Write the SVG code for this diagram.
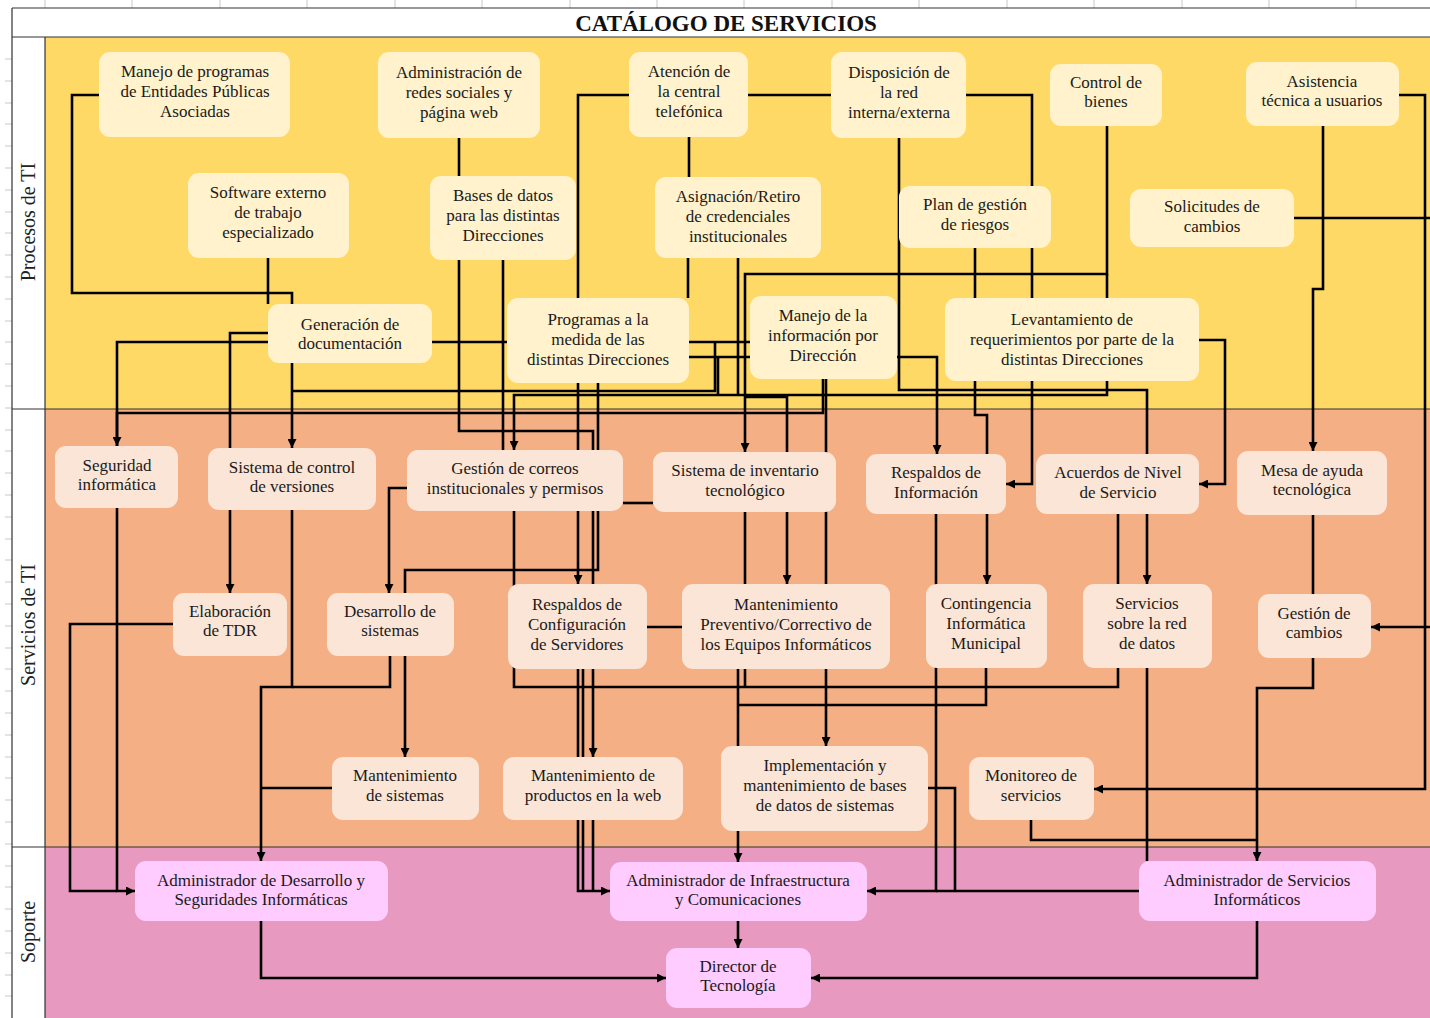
<svg xmlns="http://www.w3.org/2000/svg" width="1430" height="1018" viewBox="0 0 1430 1018">
  <defs>
    <marker id="arr" viewBox="0 0 10 10" refX="10" refY="5" markerWidth="11" markerHeight="9" markerUnits="userSpaceOnUse" orient="auto">
      <path d="M0,0 L10,5 L0,10 z" fill="#000"/>
    </marker>
    <style>
      .lane1 { fill: #FFD966; }
      .lane2 { fill: #F4AF84; }
      .lane3 { fill: #E899C0; }
      .frame { fill: none; stroke: #333; stroke-width: 1.2; }
      .tick { stroke: #c8c8c8; stroke-width: 1; }
      .np { fill: #FFF2CC; }
      .ns { fill: #FBE5D6; }
      .nk { fill: #FFCCFF; }
      .node text { font-family: "Liberation Serif", "Times New Roman", serif; font-size: 17px; fill: #1a1a1a; text-anchor: middle; }
      .lbl { font-family: "Liberation Serif", "Times New Roman", serif; font-size: 20px; fill: #222; text-anchor: middle; }
      .title { font-family: "Liberation Serif", "Times New Roman", serif; font-size: 23px; font-weight: bold; fill: #111; text-anchor: middle; }
      #connectors path { fill: none; stroke: #000; stroke-width: 2.6; }
      .a { marker-end: url(#arr); }
    </style>
  </defs>

  <!-- canvas -->
  <rect x="0" y="0" width="1430" height="1018" fill="#fff"/>

  <!-- ruler ticks -->
  <g id="ruler">
    <path class="tick" d="M45,0V8 M132,0V8 M220,0V8 M307,0V8 M395,0V8 M482,0V8 M570,0V8 M657,0V8 M744,0V8 M832,0V8 M919,0V8 M1007,0V8 M1094,0V8 M1182,0V8 M1269,0V8 M1356,0V8"/>
    <path class="tick" d="M5,59H12 M5,81H12 M5,103H12 M5,124H12 M5,146H12 M5,168H12 M5,190H12 M5,212H12 M5,233H12 M5,255H12 M5,277H12 M5,299H12 M5,321H12 M5,342H12 M5,364H12 M5,386H12 M5,408H12 M5,430H12 M5,451H12 M5,473H12 M5,495H12 M5,517H12 M5,539H12 M5,560H12 M5,582H12 M5,604H12 M5,626H12 M5,648H12 M5,669H12 M5,691H12 M5,713H12 M5,735H12 M5,757H12 M5,778H12 M5,800H12 M5,822H12 M5,844H12 M5,866H12 M5,887H12 M5,909H12 M5,931H12 M5,953H12 M5,975H12 M5,996H12"/>
  </g>

  <!-- lanes -->
  <g id="lanes">
    <rect x="45" y="37" width="1385" height="372" class="lane1"/>
    <rect x="45" y="409" width="1385" height="438" class="lane2"/>
    <rect x="45" y="847" width="1385" height="171" class="lane3"/>
    <rect x="12" y="37" width="33" height="981" fill="#fff"/>
    <path class="frame" d="M12,8H1430 M12,37H1430 M12,409H1430 M12,847H1430 M12,8V1018 M45,37V1018"/>
    <text class="title" x="726" y="31">CATÁLOGO DE SERVICIOS</text>
    <text class="lbl" transform="translate(35,222) rotate(-90)">Procesos de TI</text>
    <text class="lbl" transform="translate(35,625) rotate(-90)">Servicios de TI</text>
    <text class="lbl" transform="translate(35,932) rotate(-90)">Soporte</text>
  </g>

  <!-- connectors -->
  <g id="connectors">
    <path class="a" d="M99,95H72V293H292V448"/>
    <path d="M268,258V304"/>
    <path class="a" d="M268,333H230V593"/>
    <path class="a" d="M268,342H117V446"/>
    <path d="M432,342H507"/>
    <path d="M459,138V176"/>
    <path class="a" d="M459,260V431H593V757"/>
    <path d="M503,260V450"/>
    <path d="M629,95H578V298"/>
    <path d="M748,95H831"/>
    <path d="M689,137V177"/>
    <path d="M688,258V298"/>
    <path class="a" d="M966,95H1032V484H1006"/>
    <path class="a" d="M899,138V390H1147V584"/>
    <path class="a" d="M1107,126V274H745V452"/>
    <path class="a" d="M1107,274V395H514V450"/>
    <path class="a" d="M1323,126V289H1313V451"/>
    <path class="a" d="M1399,95H1425V789H1094"/>
    <path class="a" d="M1294,218H1436V627H1371"/>
    <path class="a" d="M975,248V415H987V584"/>
    <path class="a" d="M1199,340H1225V484H1199"/>
    <path d="M738,258V395"/>
    <path class="a" d="M897,357H937V454"/>
    <path class="a" d="M826,379V746"/>
    <path d="M823,379V413H117V446"/>
    <path d="M689,342H750"/>
    <path d="M689,357H750 M715,342V391H292 M718,357V395"/>
    <path class="a" d="M578,383V584"/>
    <path class="a" d="M598,383V570H405V757"/>
    <path class="a" d="M745,397H787V584"/>
    <path class="a" d="M407,488H389V593"/>
    <path d="M623,503H653"/>
    <path d="M1118,514V687H514V511"/>
    <path class="a" d="M292,510V687H261V861"/>
    <path d="M390,656V687H292"/>
    <path d="M332,788H262"/>
    <path class="a" d="M117,508V891H135"/>
    <path d="M173,624H70V891H117"/>
    <path d="M647,627H682"/>
    <path class="a" d="M578,669V891H610"/>
    <path d="M583,669V891"/>
    <path d="M593,820V891"/>
    <path class="a" d="M738,669V862"/>
    <path d="M745,512V584 M745,669V687"/>
    <path d="M986,668V705H738"/>
    <path class="a" d="M936,514V891H867"/>
    <path d="M928,788H955V891"/>
    <path d="M1139,891H936"/>
    <path d="M1147,668V861"/>
    <path d="M1313,515V594"/>
    <path class="a" d="M1313,658V688H1257V861"/>
    <path d="M1031,820V840H1257"/>
    <path class="a" d="M1257,921V978H811"/>
    <path class="a" d="M738,921V948"/>
    <path class="a" d="M261,921V978H666"/>
  </g>

  <!-- Procesos de TI -->
  <g id="n-manejo-programas" class="node"><rect class="np" x="99" y="52" width="191" height="85" rx="11"/><text x="195" y="77">Manejo de programas</text><text x="195" y="97">de Entidades Públicas</text><text x="195" y="117">Asociadas</text></g>
  <g id="n-redes-sociales" class="node"><rect class="np" x="378" y="52" width="162" height="86" rx="11"/><text x="459" y="78">Administración de</text><text x="459" y="98">redes sociales y</text><text x="459" y="118">página web</text></g>
  <g id="n-central-telefonica" class="node"><rect class="np" x="629" y="52" width="119" height="85" rx="11"/><text x="689" y="77">Atención de</text><text x="689" y="97">la central</text><text x="689" y="117">telefónica</text></g>
  <g id="n-disposicion-red" class="node"><rect class="np" x="831" y="52" width="135" height="86" rx="11"/><text x="899" y="78">Disposición de</text><text x="899" y="98">la red</text><text x="899" y="118">interna/externa</text></g>
  <g id="n-control-bienes" class="node"><rect class="np" x="1050" y="64" width="112" height="62" rx="11"/><text x="1106" y="88">Control de</text><text x="1106" y="107">bienes</text></g>
  <g id="n-asistencia" class="node"><rect class="np" x="1246" y="62" width="153" height="64" rx="11"/><text x="1322" y="87">Asistencia</text><text x="1322" y="106">técnica a usuarios</text></g>
  <g id="n-software-externo" class="node"><rect class="np" x="188" y="173" width="161" height="85" rx="11"/><text x="268" y="198">Software externo</text><text x="268" y="218">de trabajo</text><text x="268" y="238">especializado</text></g>
  <g id="n-bases-datos" class="node"><rect class="np" x="430" y="176" width="146" height="84" rx="11"/><text x="503" y="201">Bases de datos</text><text x="503" y="221">para las distintas</text><text x="503" y="241">Direcciones</text></g>
  <g id="n-credenciales" class="node"><rect class="np" x="655" y="177" width="166" height="81" rx="11"/><text x="738" y="202">Asignación/Retiro</text><text x="738" y="222">de credenciales</text><text x="738" y="242">institucionales</text></g>
  <g id="n-plan-riesgos" class="node"><rect class="np" x="899" y="186" width="152" height="62" rx="11"/><text x="975" y="210">Plan de gestión</text><text x="975" y="230">de riesgos</text></g>
  <g id="n-solicitudes-cambios" class="node"><rect class="np" x="1130" y="189" width="164" height="58" rx="11"/><text x="1212" y="212">Solicitudes de</text><text x="1212" y="232">cambios</text></g>
  <g id="n-generacion-doc" class="node"><rect class="np" x="268" y="304" width="164" height="59" rx="11"/><text x="350" y="330">Generación de</text><text x="350" y="349">documentación</text></g>
  <g id="n-programas-medida" class="node"><rect class="np" x="507" y="298" width="182" height="85" rx="11"/><text x="598" y="325">Programas a la</text><text x="598" y="345">medida de las</text><text x="598" y="365">distintas Direcciones</text></g>
  <g id="n-manejo-info" class="node"><rect class="np" x="750" y="296" width="147" height="83" rx="11"/><text x="823" y="321">Manejo de la</text><text x="823" y="341">información por</text><text x="823" y="361">Dirección</text></g>
  <g id="n-levantamiento" class="node"><rect class="np" x="945" y="298" width="254" height="83" rx="11"/><text x="1072" y="325">Levantamiento de</text><text x="1072" y="345">requerimientos por parte de la</text><text x="1072" y="365">distintas Direcciones</text></g>

  <!-- Servicios de TI -->
  <g id="n-seguridad" class="node"><rect class="ns" x="55" y="446" width="123" height="62" rx="11"/><text x="117" y="471">Seguridad</text><text x="117" y="490">informática</text></g>
  <g id="n-control-versiones" class="node"><rect class="ns" x="208" y="448" width="168" height="62" rx="11"/><text x="292" y="473">Sistema de control</text><text x="292" y="492">de versiones</text></g>
  <g id="n-correos" class="node"><rect class="ns" x="407" y="450" width="216" height="61" rx="11"/><text x="515" y="474">Gestión de correos</text><text x="515" y="494">institucionales y permisos</text></g>
  <g id="n-inventario" class="node"><rect class="ns" x="653" y="452" width="183" height="60" rx="11"/><text x="745" y="476">Sistema de inventario</text><text x="745" y="496">tecnológico</text></g>
  <g id="n-respaldos-info" class="node"><rect class="ns" x="866" y="454" width="140" height="60" rx="11"/><text x="936" y="478">Respaldos de</text><text x="936" y="498">Información</text></g>
  <g id="n-acuerdos" class="node"><rect class="ns" x="1036" y="454" width="163" height="60" rx="11"/><text x="1118" y="478">Acuerdos de Nivel</text><text x="1118" y="498">de Servicio</text></g>
  <g id="n-mesa-ayuda" class="node"><rect class="ns" x="1237" y="451" width="150" height="64" rx="11"/><text x="1312" y="476">Mesa de ayuda</text><text x="1312" y="495">tecnológica</text></g>
  <g id="n-tdr" class="node"><rect class="ns" x="173" y="593" width="114" height="63" rx="11"/><text x="230" y="617">Elaboración</text><text x="230" y="636">de TDR</text></g>
  <g id="n-desarrollo" class="node"><rect class="ns" x="327" y="593" width="127" height="63" rx="11"/><text x="390" y="617">Desarrollo de</text><text x="390" y="636">sistemas</text></g>
  <g id="n-respaldos-config" class="node"><rect class="ns" x="508" y="584" width="139" height="85" rx="11"/><text x="577" y="610">Respaldos de</text><text x="577" y="630">Configuración</text><text x="577" y="650">de Servidores</text></g>
  <g id="n-mant-preventivo" class="node"><rect class="ns" x="682" y="584" width="208" height="85" rx="11"/><text x="786" y="610">Mantenimiento</text><text x="786" y="630">Preventivo/Correctivo de</text><text x="786" y="650">los Equipos Informáticos</text></g>
  <g id="n-contingencia" class="node"><rect class="ns" x="926" y="584" width="121" height="84" rx="11"/><text x="986" y="609">Contingencia</text><text x="986" y="629">Informática</text><text x="986" y="649">Municipal</text></g>
  <g id="n-servicios-red" class="node"><rect class="ns" x="1083" y="584" width="129" height="84" rx="11"/><text x="1147" y="609">Servicios</text><text x="1147" y="629">sobre la red</text><text x="1147" y="649">de datos</text></g>
  <g id="n-gestion-cambios" class="node"><rect class="ns" x="1258" y="594" width="113" height="64" rx="11"/><text x="1314" y="619">Gestión de</text><text x="1314" y="638">cambios</text></g>
  <g id="n-mant-sistemas" class="node"><rect class="ns" x="332" y="757" width="147" height="63" rx="11"/><text x="405" y="781">Mantenimiento</text><text x="405" y="801">de sistemas</text></g>
  <g id="n-mant-web" class="node"><rect class="ns" x="503" y="757" width="180" height="63" rx="11"/><text x="593" y="781">Mantenimiento de</text><text x="593" y="801">productos en la web</text></g>
  <g id="n-implementacion-bd" class="node"><rect class="ns" x="721" y="746" width="207" height="85" rx="11"/><text x="825" y="771">Implementación y</text><text x="825" y="791">mantenimiento de bases</text><text x="825" y="811">de datos de sistemas</text></g>
  <g id="n-monitoreo" class="node"><rect class="ns" x="969" y="757" width="125" height="63" rx="11"/><text x="1031" y="781">Monitoreo de</text><text x="1031" y="801">servicios</text></g>

  <!-- Soporte -->
  <g id="n-admin-desarrollo" class="node"><rect class="nk" x="135" y="861" width="253" height="60" rx="11"/><text x="261" y="886">Administrador de Desarrollo y</text><text x="261" y="905">Seguridades Informáticas</text></g>
  <g id="n-admin-infra" class="node"><rect class="nk" x="610" y="862" width="257" height="59" rx="11"/><text x="738" y="886">Administrador de Infraestructura</text><text x="738" y="905">y Comunicaciones</text></g>
  <g id="n-admin-servicios" class="node"><rect class="nk" x="1139" y="861" width="237" height="60" rx="11"/><text x="1257" y="886">Administrador de Servicios</text><text x="1257" y="905">Informáticos</text></g>
  <g id="n-director" class="node"><rect class="nk" x="666" y="948" width="145" height="60" rx="11"/><text x="738" y="972">Director de</text><text x="738" y="991">Tecnología</text></g>
</svg>
